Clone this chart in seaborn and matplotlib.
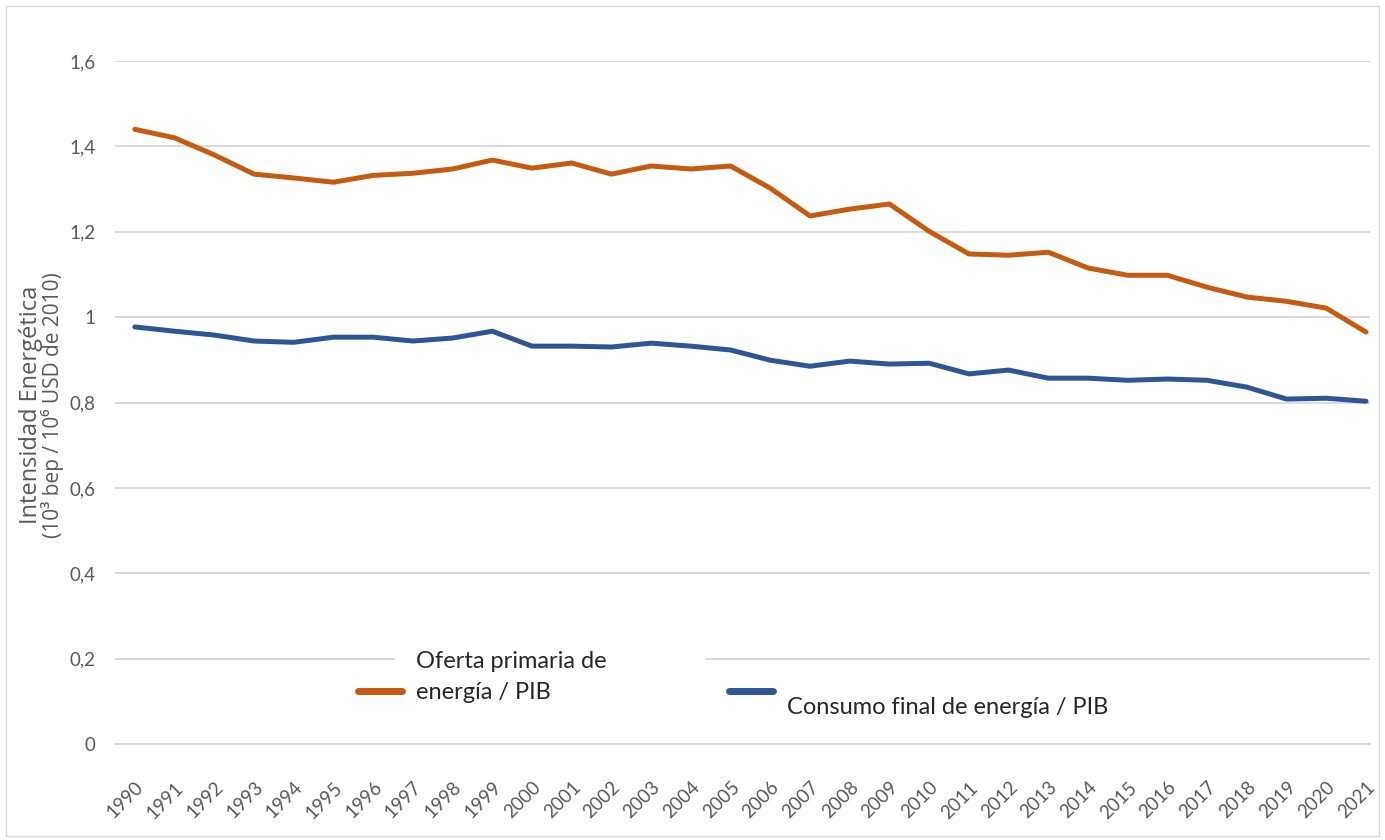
import pandas as pd
import matplotlib.pyplot as plt
import seaborn as sns
from matplotlib.lines import Line2D
from matplotlib.patches import Rectangle
from matplotlib.offsetbox import TextArea
from matplotlib.ticker import FuncFormatter

# Data
years = list(range(1990, 2022))
oferta = [1.44, 1.42, 1.38, 1.335, 1.326, 1.316, 1.332, 1.337, 1.347, 1.368,
          1.349, 1.361, 1.335, 1.354, 1.347, 1.354, 1.302, 1.237, 1.253, 1.265,
          1.201, 1.148, 1.145, 1.152, 1.115, 1.098, 1.098, 1.070, 1.047, 1.037,
          1.021, 0.965]
consumo = [0.977, 0.967, 0.958, 0.944, 0.941, 0.953, 0.953, 0.944, 0.951, 0.967,
           0.932, 0.932, 0.930, 0.939, 0.932, 0.923, 0.899, 0.885, 0.897, 0.890,
           0.892, 0.867, 0.876, 0.857, 0.857, 0.852, 0.855, 0.852, 0.836, 0.808,
           0.810, 0.803]
series_names = ["Oferta primaria de\nenergía / PIB", "Consumo final de energía / PIB"]
colors = ["#C55A11", "#2F5597"]
y_ticks = [0, 0.2, 0.4, 0.6, 0.8, 1.0, 1.2, 1.4, 1.6]

df = pd.DataFrame({
    "Año": years * 2,
    "Valor": oferta + consumo,
    "Serie": [series_names[0]] * len(years) + [series_names[1]] * len(years),
})

sns.set_style("white")
plt.rcParams['font.family'] = ['Lato', 'DejaVu Sans']

W, H = 1385, 840
fig = plt.figure(figsize=(W / 100, H / 100), dpi=100)
ax = fig.add_axes([115 / W, 96 / H, 1255 / W, 683 / H])

sns.lineplot(data=df, x="Año", y="Valor", hue="Serie", palette=colors,
             linewidth=3.6, ax=ax, legend=False, solid_capstyle='round')

ax.set_xlim(1989.5, 2021.1)
ax.set_ylim(0, 1.6)
ax.set_yticks(y_ticks)
ax.yaxis.set_major_formatter(FuncFormatter(lambda v, p: f"{v:g}".replace(".", ",")))
ax.set_xticks(years)
ax.set_xticklabels([str(y) for y in years], rotation=45, ha='right', va='top',
                   rotation_mode='anchor')
ax.tick_params(axis='both', length=0, labelsize=13.5, colors='#595959')
ax.tick_params(axis='y', pad=14)
ax.tick_params(axis='x', pad=25)
ax.grid(axis='y', color='#d9d9d9', linewidth=1.3)
ax.set_axisbelow(True)
for s in ['top', 'right', 'left']:
    ax.spines[s].set_visible(False)
ax.spines['bottom'].set_color('#d9d9d9')
ax.spines['bottom'].set_linewidth(1.3)
ax.set_xlabel("")
ax.set_ylabel("")

# y axis title (two lines)
fig.text(31 / W, 1 - 405 / H, "Intensidad Energética", rotation=90,
         ha='center', va='center', fontsize=17, color='#595959',
         family=['Open Sans', 'DejaVu Sans'])
fig.text(53 / W, 1 - 405 / H, "(10³ bep / 10⁶ USD de 2010)", rotation=90,
         ha='center', va='center', fontsize=15, color='#595959',
         family=['Open Sans', 'DejaVu Sans'])

# white box behind the first legend label (hides part of the 0,2 gridline)
fig.patches.append(Rectangle((395 / W, 1 - 715 / H), 310 / W, 75 / H,
                             transform=fig.transFigure, facecolor='white',
                             edgecolor='none'))

# legend
handles = [Line2D([0], [0], color=c, linewidth=5, solid_capstyle='round') for c in colors]
leg = fig.legend(handles, series_names, loc='lower left',
                 bbox_to_anchor=(358 / W, 1 - 703 / H), ncol=2, frameon=False,
                 fontsize=17, handlelength=1.85, handletextpad=0.6, columnspacing=5.2,
                 borderpad=0, borderaxespad=0)
for ta in leg.findobj(lambda a: isinstance(a, TextArea)):
    ta.set_multilinebaseline(False)
texts = leg.get_texts()
texts[0].set_linespacing(1.6)
texts[1].set_y(-15)

# outer border
fig.patches.append(Rectangle((6 / W, 4 / H), 1373 / W, 830 / H,
                             transform=fig.transFigure, fill=False,
                             edgecolor='#d9d9d9', linewidth=1))

plt.savefig("out.png", dpi=100)
